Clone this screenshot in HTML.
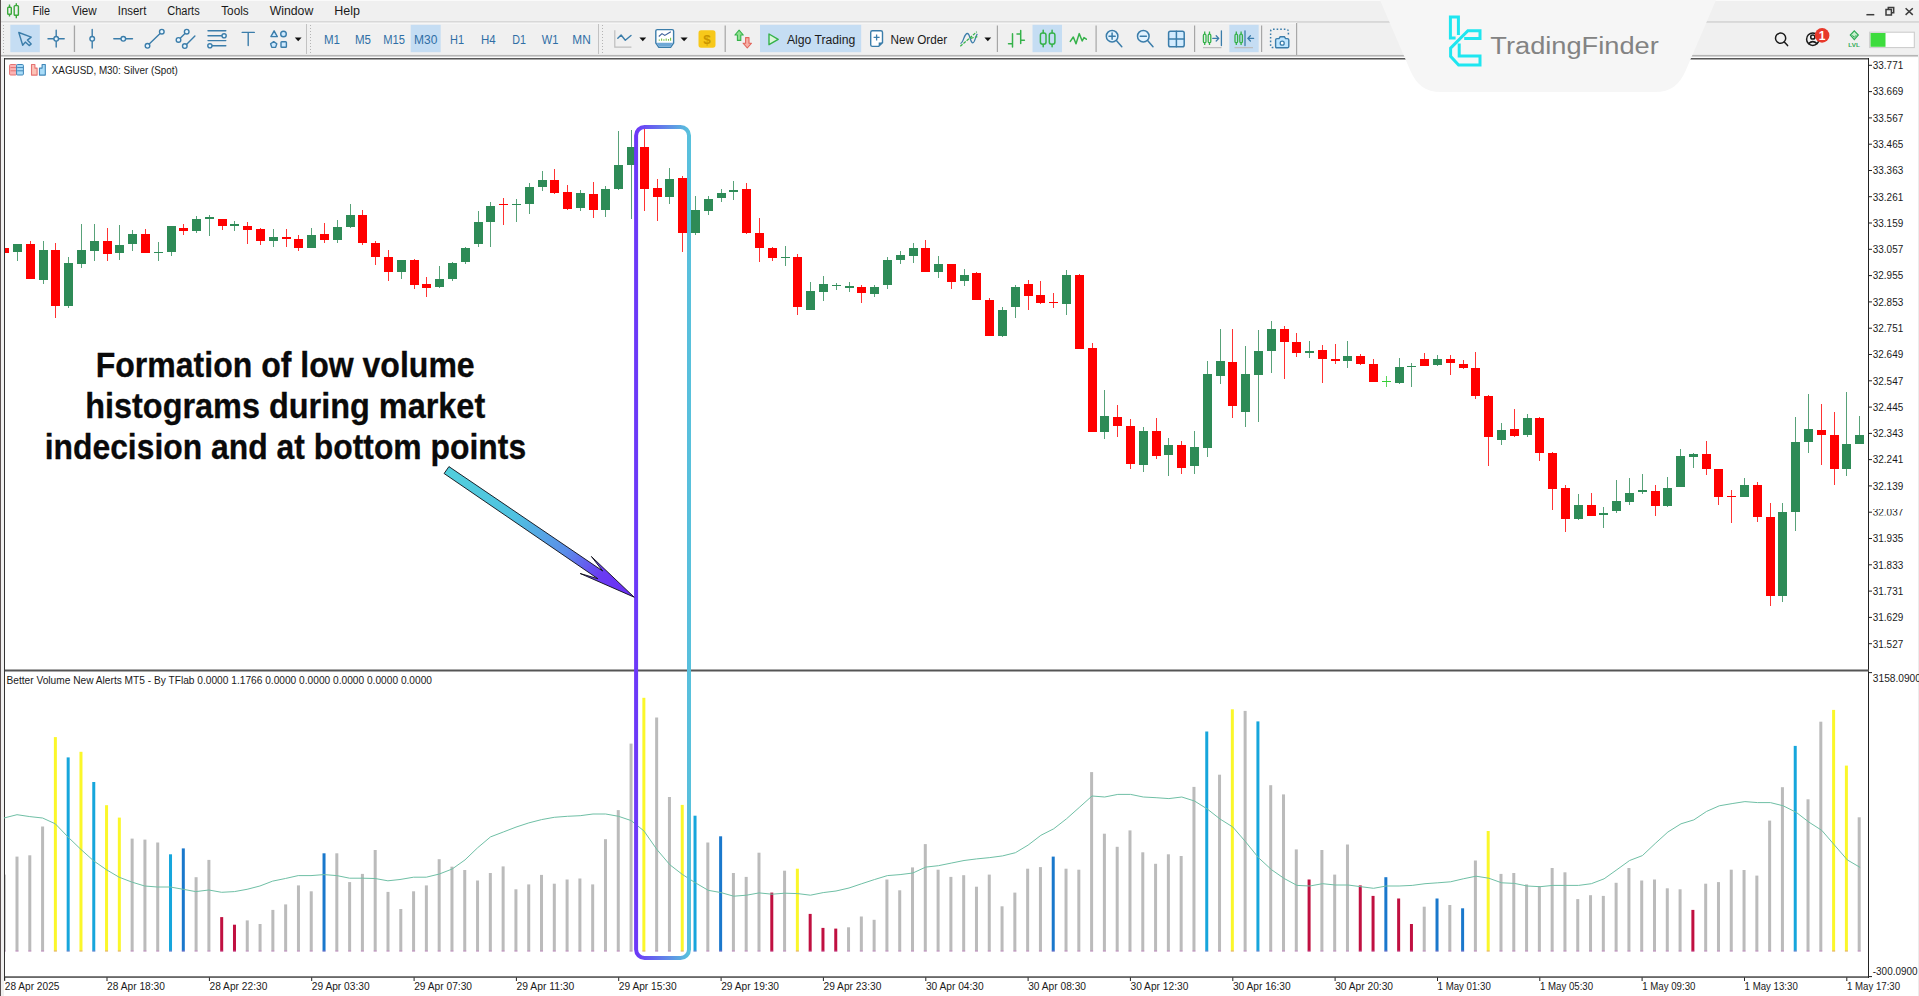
<!DOCTYPE html>
<html lang="en">
<head>
<meta charset="utf-8">
<title>XAGUSD, M30 - Better Volume New Alerts MT5</title>
<style>
html,body{margin:0;padding:0;background:#fff;}
body{width:1919px;height:996px;position:relative;overflow:hidden;font-family:"Liberation Sans",sans-serif;}
svg text.ax{font-family:"Liberation Sans",sans-serif;font-size:10.2px;fill:#1a1a1a;}
svg text.ttl{font-family:"Liberation Sans",sans-serif;font-size:10.2px;fill:#1a1a1a;}
svg text.ann{font-family:"Liberation Sans",sans-serif;font-weight:bold;font-size:35px;fill:#0a0a0a;stroke:#0a0a0a;stroke-width:0.3px;text-anchor:middle;}
svg text.logo{font-family:"Liberation Sans",sans-serif;font-size:24.7px;fill:#838383;}
svg .mn text{font-family:"Liberation Sans",sans-serif;font-size:12px;fill:#1a1a1a;}
svg .tf text{font-family:"Liberation Sans",sans-serif;font-size:12px;fill:#2f6ea5;}
svg .tb text{font-family:"Liberation Sans",sans-serif;font-size:12.5px;fill:#1a1a1a;}
#main{position:absolute;left:0;top:0;}
</style>
</head>
<body>

<svg id="main" width="1919" height="996" viewBox="0 0 1919 996">
<defs>
<linearGradient id="gbox" x1="636" y1="0" x2="689" y2="0" gradientUnits="userSpaceOnUse">
<stop offset="0" stop-color="#6c38f8"/><stop offset="1" stop-color="#58c1dc"/>
</linearGradient>
<linearGradient id="garr" x1="446" y1="470" x2="634" y2="597" gradientUnits="userSpaceOnUse">
<stop offset="0" stop-color="#52cfdc"/><stop offset="0.36" stop-color="#50c2e0"/><stop offset="0.64" stop-color="#5b8de9"/><stop offset="0.82" stop-color="#6a3cf2"/><stop offset="1" stop-color="#6a2cf5"/>
</linearGradient>
<clipPath id="clip037"><rect x="1870" y="509.000" width="49" height="6.500"/></clipPath>
<clipPath id="clipchart"><rect x="5" y="59" width="1863" height="918"/></clipPath>
</defs>

<!-- ===== window chrome: menu + toolbar ===== -->
<g id="chrome">
<rect x="0" y="0" width="1919" height="55" fill="#f0f0f0"/>
<rect x="0" y="0" width="1919" height="1" fill="#fafafa"/>
<rect x="0" y="21.300" width="1919" height="1.300" fill="#cdcdcd"/>
<rect x="0" y="22.600" width="1297" height="1" fill="#fbfbfb"/>
<rect x="0" y="54.500" width="1919" height="1" fill="#e6e6e6"/>
<rect x="0" y="55.200" width="1919" height="1.500" fill="#a6a6a6"/>
<rect x="0" y="56.700" width="1919" height="1.500" fill="#fcfcfc"/>

<!-- highlighted buttons -->
<g fill="#c5ddf3">
<rect x="10.3" y="24.8" width="29.500" height="27.400"/>
<rect x="410.7" y="24.8" width="30" height="27.4"/>
<rect x="760" y="24.8" width="101.2" height="27.4"/>
<rect x="1032.500" y="24.8" width="29.5" height="27.4"/>
<rect x="1229.3" y="24.8" width="29.4" height="27.4"/>
</g>

<!-- app icon -->
<g fill="none" stroke="#3aa83a" stroke-width="1.4">
<rect x="7.7" y="7.2" width="3.6" height="7" rx="0.8"/>
<path d="M9.5 4.5 V7.2 M9.5 14.2 V16.5"/>
<rect x="14.2" y="5.6" width="4.2" height="9.6" rx="0.8"/>
<path d="M16.3 3.2 V5.6 M16.3 15.2 V18.2"/>
</g>

<!-- menu -->
<g class="mn">
<text x="32.5" y="15.4" textLength="17.5" lengthAdjust="spacingAndGlyphs">File</text>
<text x="71.7" y="15.4" textLength="25" lengthAdjust="spacingAndGlyphs">View</text>
<text x="117.8" y="15.4" textLength="28.5" lengthAdjust="spacingAndGlyphs">Insert</text>
<text x="167.2" y="15.4" textLength="32.5" lengthAdjust="spacingAndGlyphs">Charts</text>
<text x="221.2" y="15.4" textLength="27.5" lengthAdjust="spacingAndGlyphs">Tools</text>
<text x="269.7" y="15.4" textLength="43.6" lengthAdjust="spacingAndGlyphs">Window</text>
<text x="334.3" y="15.4" textLength="25.7" lengthAdjust="spacingAndGlyphs">Help</text>
</g>

<!-- grips -->
<g stroke="#b4b4b4" stroke-width="1" stroke-dasharray="1 2">
<path d="M3.5 25 V53 M310.500 25 V53 M602.500 25 V53"/>
</g>
<!-- separators -->
<g fill="#a6a6a6">
<rect x="73.800" y="25.500" width="1.300" height="26.500"/>
<rect x="306" y="24" width="1" height="30" fill="#c2c2c2"/>
<rect x="598" y="24" width="1" height="30" fill="#c2c2c2"/>
<rect x="724.600" y="25.5" width="1.2" height="26.5"/>
<rect x="996.800" y="25.5" width="1.2" height="26.5"/>
<rect x="1095.500" y="25.5" width="1.2" height="26.5"/>
<rect x="1194" y="25.5" width="1.2" height="26.5"/>
<rect x="1261" y="25.5" width="1.2" height="26.5"/>
<rect x="1296" y="23" width="1.200" height="32" fill="#a8a8a8"/>
</g>

<!-- drawing tool icons -->
<g fill="none" stroke="#3b7daa" stroke-width="1.4" stroke-linecap="round" stroke-linejoin="round">
<!-- cursor -->
<path d="M18.800 32.500 L31.200 37.100 L27.400 40.100 L31.200 43.900 L29.200 45.600 L25.300 42.100 L22.700 45.200 Z"/>
<!-- crosshair -->
<path d="M48 38.800 H53.800 M58.600 38.800 H64.200 M56.200 30.200 V36.400 M56.200 41.200 V47"/>
<circle cx="56.200" cy="38.800" r="2.300" fill="#e8f6ff"/>
<!-- vertical line -->
<path d="M92.200 29.500 V36.400 M92.200 41.200 V48"/>
<circle cx="92.200" cy="38.800" r="2.300" fill="#e8f6ff"/>
<!-- horizontal line -->
<path d="M113.800 38.800 H121 M125.700 38.800 H132.500"/>
<circle cx="123.300" cy="38.800" r="2.300" fill="#e8f6ff"/>
<!-- trend line -->
<path d="M149.200 44.100 L160.100 33.400"/>
<circle cx="147.500" cy="45.800" r="2.300" fill="#e8f6ff"/>
<circle cx="161.800" cy="31.700" r="2.300" fill="#e8f6ff"/>
<!-- channel -->
<path d="M180.200 38.200 L185 33.400 M186.500 44.400 L194.900 36"/>
<circle cx="178.500" cy="39.900" r="2.300" fill="#e8f6ff"/>
<circle cx="186.700" cy="31.700" r="2.300" fill="#e8f6ff"/>
<circle cx="184.800" cy="46.100" r="2.300" fill="#e8f6ff"/>
<!-- fibo -->
<path d="M208 30.800 H225.800 M208 35.800 H221.800 M208 40.600 H225.800 M212.200 45.800 H225.800"/>
<circle cx="224.100" cy="35.800" r="2.100" fill="#e8f6ff"/>
<circle cx="209.900" cy="45.800" r="2.100" fill="#e8f6ff"/>
<!-- text T -->
<path d="M242.200 32.400 H254.300 M248.200 32.400 V45.600"/>
<!-- shapes -->
<path d="M274.100 30.800 L277.300 36.600 H270.900 Z" fill="#cfeaff"/>
<circle cx="283.500" cy="34" r="2.800" fill="#cfeaff"/>
<path d="M273.700 41.600 L276.800 43.800 L275.600 47.400 H271.800 L270.600 43.800 Z" fill="#cfeaff"/>
<rect x="281" y="41.800" width="5.400" height="5.400" rx="0.800" fill="#cfeaff"/>
</g>
<path d="M294.800 37.400 H301.600 L298.200 41.200 Z" fill="#111"/>

<!-- timeframes -->
<g class="tf">
<text x="324" y="44.300" textLength="16" lengthAdjust="spacingAndGlyphs">M1</text>
<text x="355" y="44.300" textLength="16" lengthAdjust="spacingAndGlyphs">M5</text>
<text x="383.300" y="44.300" textLength="21.700" lengthAdjust="spacingAndGlyphs">M15</text>
<text x="414" y="44.300" textLength="23.300" lengthAdjust="spacingAndGlyphs">M30</text>
<text x="450" y="44.300" textLength="14" lengthAdjust="spacingAndGlyphs">H1</text>
<text x="481" y="44.300" textLength="14.700" lengthAdjust="spacingAndGlyphs">H4</text>
<text x="512.300" y="44.300" textLength="13.700" lengthAdjust="spacingAndGlyphs">D1</text>
<text x="541.700" y="44.300" textLength="16.600" lengthAdjust="spacingAndGlyphs">W1</text>
<text x="572.300" y="44.300" textLength="18.400" lengthAdjust="spacingAndGlyphs">MN</text>
</g>

<!-- line chart w/ dropdown -->
<path d="M614.800 30.300 V47.200 H631.400" fill="none" stroke="#bdbdbd" stroke-width="1.2"/>
<path d="M617.800 38.300 L621.100 35 L625.300 40.200 L631 35.500" fill="none" stroke="#3b7daa" stroke-width="1.400" stroke-linejoin="round" stroke-linecap="round"/>
<path d="M639.400 37.400 H646.200 L642.800 41.200 Z" fill="#111"/>
<!-- indicators -->
<path d="M657.300 29.600 H672.100 Q673.600 29.600 673.600 31.100 V43 L670.600 47.400 H658.800 L655.800 43 V31.100 Q655.800 29.600 657.300 29.600 Z" fill="#fff" stroke="#3b7daa" stroke-width="1.4"/>
<path d="M656.500 42.800 H673 L670.300 46.800 H659.100 Z" fill="#6fa8d6"/>
<path d="M658.800 36.500 L662 33.600 L664.800 35.400 L670.800 31.800" fill="none" stroke="#3b5f9a" stroke-width="1.100"/>
<path d="M659.300 40.800 V39.600 M661.600 40.800 V38.600 M663.900 40.800 V39.300 M666.200 40.800 V38.400 M668.500 40.800 V39 M670.600 40.800 V37.800" stroke="#7ac143" stroke-width="1.100"/>
<path d="M680.500 37.400 H687.700 L684.100 41.200 Z" fill="#111"/>
<!-- dollar -->
<rect x="698.500" y="30.300" width="17" height="17.400" rx="2.600" fill="#f7c81a"/>
<text x="707" y="44.200" style="font:bold 13.500px 'Liberation Sans',sans-serif;fill:#c99500;text-anchor:middle">$</text>
<!-- up/down arrows -->
<path d="M739.100 30.200 L743.300 35 H740.800 V40.400 H737.400 V35 H734.900 Z" fill="#8fe08f" stroke="#35b24a" stroke-width="1.100" stroke-linejoin="round"/>
<path d="M747.300 48 L743.100 43.200 H745.600 V37.600 H749 V43.200 H751.500 Z" fill="#f6b0a8" stroke="#e3665c" stroke-width="1.100" stroke-linejoin="round"/>
<!-- algo trading -->
<path d="M769 34 L778.200 39.300 L769 44.700 Z" fill="#d9f5d9" stroke="#35b24a" stroke-width="1.400" stroke-linejoin="round"/>
<g class="tb">
<text x="786.900" y="43.600" textLength="68.400" lengthAdjust="spacingAndGlyphs">Algo Trading</text>
<text x="890.600" y="43.600" textLength="56.600" lengthAdjust="spacingAndGlyphs">New Order</text>
</g>
<!-- new order doc -->
<path d="M872.400 30.700 H880.800 Q882.500 30.700 882.500 32.400 V42.600 L878.700 46.400 H872.400 Q870.700 46.400 870.700 44.700 V32.400 Q870.700 30.700 872.400 30.700 Z" fill="#fff" stroke="#3b7daa" stroke-width="1.400"/>
<path d="M882.500 42.600 L878.700 46.400 V42.600 Z" fill="#3b7daa"/>
<path d="M873.600 37.400 H879.600 M876.600 34.400 V40.400" stroke="#3b7daa" stroke-width="1.300"/>
<!-- chart tools -->
<path d="M960.500 43.500 C963.500 43 964 33.500 967.300 33.500 C970.300 33.500 970 42.800 972.800 42.800 C975 42.800 975.500 36 977.300 33.800" fill="none" stroke="#3b7daa" stroke-width="1.300"/>
<path d="M960.300 46.200 L976.800 31.800 M970.800 38.300 L977.300 36.600" fill="none" stroke="#35b24a" stroke-width="1.200" stroke-dasharray="3 1.200"/>
<path d="M984.400 37.400 H991.200 L987.800 41.200 Z" fill="#111"/>
<!-- bars / candles / line -->
<g fill="none" stroke="#35b24a" stroke-width="1.500" stroke-linecap="round">
<path d="M1012.500 33.800 V47 M1008.500 43.800 H1012.500 M1020.700 30.600 V43.400 M1017 34 H1020.700 M1020.700 40.200 H1024.400"/>
<rect x="1040.400" y="33" width="5.600" height="11.200" rx="2.200"/>
<path d="M1043.200 30.200 V33 M1043.200 44.200 V46.800"/>
<rect x="1049.300" y="33" width="5.600" height="11.200" rx="2.200"/>
<path d="M1052.100 30.200 V33 M1052.100 44.200 V46.800"/>
<path d="M1070.300 41.400 L1073.300 37 L1076 43.800 L1079.200 33.600 L1082.200 41 L1084 37.600 L1086.300 39.200" stroke-linejoin="round"/>
</g>
<!-- zoom in/out -->
<g fill="none" stroke="#3b7daa" stroke-width="1.500" stroke-linecap="round">
<circle cx="1112.100" cy="36.200" r="5.800" fill="#e2f3ff"/>
<path d="M1116.400 40.600 L1121.800 46.700 M1109 36.200 H1115.200 M1112.100 33.100 V39.300"/>
<circle cx="1143.300" cy="36.200" r="5.800" fill="#e2f3ff"/>
<path d="M1147.600 40.600 L1153 46.700 M1140.200 36.200 H1146.400"/>
<!-- grid -->
<rect x="1168.600" y="31.200" width="15.600" height="15.600" rx="1.800" fill="#d3ecff"/>
<path d="M1176.400 31.200 V46.800 M1168.600 39 H1184.200"/>
</g>
<!-- scroll-to-end -->
<g fill="none" stroke="#35b24a" stroke-width="1.300">
<rect x="1203.400" y="34.200" width="2.600" height="8.400" rx="1.200"/><path d="M1204.700 31.600 V34.200 M1204.700 42.600 V45"/>
<rect x="1208.200" y="34.200" width="2.600" height="8.400" rx="1.200"/><path d="M1209.500 31.600 V34.200 M1209.500 42.600 V45"/>
<rect x="1235" y="34.200" width="2.600" height="8.400" rx="1.200"/><path d="M1236.300 31.600 V34.200 M1236.300 42.600 V45"/>
<rect x="1239.800" y="34.200" width="2.600" height="8.400" rx="1.200"/><path d="M1241.100 31.600 V34.200 M1241.100 42.600 V45"/>
</g>
<g fill="none" stroke="#3b7daa" stroke-width="1.300" stroke-linecap="round" stroke-linejoin="round">
<path d="M1212.800 38.400 H1218.600 M1216.200 35.800 L1218.800 38.400 L1216.200 41 M1221.400 30.800 V45.600"/>
<path d="M1245 30.800 V45.600 M1247.800 38.400 H1253.600 M1250.400 35.800 L1247.800 38.400 L1250.400 41"/>
</g>
<path d="M1203 47.600 H1221.500 M1234.500 47.600 H1253" stroke="#bdbdbd" stroke-width="1.200"/>
<!-- camera -->
<path d="M1277 47.600 H1273 Q1270.600 47.600 1270.600 45.200 V31.600 Q1270.600 29.200 1273 29.200 H1286 Q1288.400 29.200 1288.400 31.600 V35.600" fill="none" stroke="#3b7daa" stroke-width="1.500" stroke-dasharray="1.600 2"/>
<path d="M1277 38.600 H1279 L1280.200 36.800 H1284.400 L1285.600 38.600 H1287.400 Q1288.800 38.600 1288.800 40 V46.400 Q1288.800 47.800 1287.400 47.800 H1277 Q1275.600 47.800 1275.600 46.400 V40 Q1275.600 38.600 1277 38.600 Z" fill="#bfe6ff" stroke="#3b7daa" stroke-width="1.400"/>
<circle cx="1282.200" cy="43.200" r="2" fill="#fff" stroke="#3b7daa" stroke-width="1.300"/>

<!-- right side -->
<g fill="none" stroke="#1b1b1b" stroke-width="1.500" stroke-linecap="round">
<circle cx="1780.600" cy="38.200" r="5.100"/>
<path d="M1784.300 42 L1787.600 45.600"/>
<circle cx="1812.800" cy="39.200" r="6.200"/>
<circle cx="1812.800" cy="37" r="2.100"/>
<path d="M1808.600 43.600 Q1812.800 39.600 1817 43.600"/>
</g>
<circle cx="1822.100" cy="35.400" r="7.300" fill="#e8392b"/>
<text x="1822.100" y="40" style="font:bold 12px 'Liberation Sans',sans-serif;fill:#fff;text-anchor:middle">1</text>
<path d="M1854.300 30.800 L1858.300 35 L1854.300 39.600 L1850.300 35 Z" fill="#c9f0d0" stroke="#2faa55" stroke-width="1.200"/>
<path d="M1852.400 35.200 L1854.300 37.300 L1856.200 35.200" fill="none" stroke="#2faa55" stroke-width="1"/>
<text x="1854.100" y="46.800" style="font:bold 6px 'Liberation Sans',sans-serif;fill:#2faa55;text-anchor:middle" textLength="11.500" lengthAdjust="spacingAndGlyphs">LVL</text>
<rect x="1869.700" y="32.200" width="44.600" height="15.400" fill="#fff" stroke="#c9c9c9" stroke-width="1"/>
<rect x="1870.500" y="33" width="15" height="13.800" fill="#3ddc3d"/>
<!-- window controls -->
<g fill="none" stroke="#3c3c3c" stroke-width="1.500">
<path d="M1866.400 14.700 H1874.300"/>
<path d="M1886 9.600 H1891.400 V15 H1886 Z M1888.300 9.600 V7.400 H1893.700 V12.800 H1891.400"/>
<path d="M1905.600 8.300 L1912.800 14.900 M1912.800 8.300 L1905.600 14.900"/>
</g>
</g>

<!-- window / frame borders -->
<rect x="0" y="0" width="1" height="996" fill="#5a5050"/>
<rect x="4" y="58.150" width="1865" height="1.300" fill="#3a3a3a"/>
<rect x="4" y="58" width="1" height="922" fill="#333"/>
<rect x="1" y="58" width="3" height="938" fill="#f0f0f0"/>
<rect x="1918" y="55" width="1" height="941" fill="#ececec"/>
<!-- right axis -->
<rect x="1868" y="58" width="1" height="920" fill="#222"/>
<!-- separator between main & indicator -->
<rect x="5" y="669.5" width="1864" height="2" fill="#555"/>
<!-- bottom axis -->
<rect x="5" y="976.400" width="1864" height="1.300" fill="#2a2a2a"/>

<!-- chart title -->
<g>
<rect x="9.600" y="64.500" width="7" height="10.500" rx="1" fill="#fbb4b4" stroke="#e57373" stroke-width="1"/>
<rect x="16.600" y="64.500" width="6.800" height="10.500" rx="1" fill="#a9dcf8" stroke="#3f86b8" stroke-width="1"/>
<path d="M10.500 67.600 H16 M10.500 70.800 H16" stroke="#e57373" stroke-width="1"/>
<path d="M17.200 67.600 H23 M17.200 70.800 H23" stroke="#3f86b8" stroke-width="1"/>
<path d="M31.500 64.500 h3.400 v3.600 h2.200 v7 h-5.600 z" fill="#fcc4b8" stroke="#e57373" stroke-width="1.100" stroke-linejoin="round"/>
<path d="M39.500 68.100 h2.600 v-3.600 h3.200 v10.600 h-5.800 z" fill="#a9dcf8" stroke="#3f86b8" stroke-width="1.100" stroke-linejoin="round"/>
<text x="51.800" y="73.800" class="ttl" textLength="126" lengthAdjust="spacingAndGlyphs">XAGUSD, M30:  Silver (Spot)</text>
</g>

<!-- indicator title and scale -->
<text x="6.5" y="684" class="ttl" textLength="425.5" lengthAdjust="spacingAndGlyphs">Better Volume New Alerts MT5 - By TFlab 0.0000 1.1766 0.0000 0.0000 0.0000 0.0000 0.0000</text>
<rect x="1869" y="672.100" width="3" height="1" fill="#222"/>
<text x="1872.800" y="681.600" class="ax">3158.0900</text>
<rect x="1869" y="976.100" width="3" height="1" fill="#222"/>
<text x="1872.800" y="975.400" class="ax" textLength="44.700" lengthAdjust="spacingAndGlyphs">-300.0900</text>

<rect x="1869" y="64.8" width="3" height="1" fill="#222"/>
<text x="1872.8" y="69.1" class="ax" textLength="30.4" lengthAdjust="spacingAndGlyphs">33.771</text>
<rect x="1869" y="91.1" width="3" height="1" fill="#222"/>
<text x="1872.8" y="95.4" class="ax" textLength="30.4" lengthAdjust="spacingAndGlyphs">33.669</text>
<rect x="1869" y="117.4" width="3" height="1" fill="#222"/>
<text x="1872.8" y="121.7" class="ax" textLength="30.4" lengthAdjust="spacingAndGlyphs">33.567</text>
<rect x="1869" y="143.7" width="3" height="1" fill="#222"/>
<text x="1872.8" y="148.0" class="ax" textLength="30.4" lengthAdjust="spacingAndGlyphs">33.465</text>
<rect x="1869" y="170.0" width="3" height="1" fill="#222"/>
<text x="1872.8" y="174.3" class="ax" textLength="30.4" lengthAdjust="spacingAndGlyphs">33.363</text>
<rect x="1869" y="196.2" width="3" height="1" fill="#222"/>
<text x="1872.8" y="200.6" class="ax" textLength="30.4" lengthAdjust="spacingAndGlyphs">33.261</text>
<rect x="1869" y="222.5" width="3" height="1" fill="#222"/>
<text x="1872.8" y="226.8" class="ax" textLength="30.4" lengthAdjust="spacingAndGlyphs">33.159</text>
<rect x="1869" y="248.8" width="3" height="1" fill="#222"/>
<text x="1872.8" y="253.1" class="ax" textLength="30.4" lengthAdjust="spacingAndGlyphs">33.057</text>
<rect x="1869" y="275.1" width="3" height="1" fill="#222"/>
<text x="1872.8" y="279.4" class="ax" textLength="30.4" lengthAdjust="spacingAndGlyphs">32.955</text>
<rect x="1869" y="301.4" width="3" height="1" fill="#222"/>
<text x="1872.8" y="305.7" class="ax" textLength="30.4" lengthAdjust="spacingAndGlyphs">32.853</text>
<rect x="1869" y="327.7" width="3" height="1" fill="#222"/>
<text x="1872.8" y="332.0" class="ax" textLength="30.4" lengthAdjust="spacingAndGlyphs">32.751</text>
<rect x="1869" y="354.0" width="3" height="1" fill="#222"/>
<text x="1872.8" y="358.3" class="ax" textLength="30.4" lengthAdjust="spacingAndGlyphs">32.649</text>
<rect x="1869" y="380.3" width="3" height="1" fill="#222"/>
<text x="1872.8" y="384.6" class="ax" textLength="30.4" lengthAdjust="spacingAndGlyphs">32.547</text>
<rect x="1869" y="406.6" width="3" height="1" fill="#222"/>
<text x="1872.8" y="410.9" class="ax" textLength="30.4" lengthAdjust="spacingAndGlyphs">32.445</text>
<rect x="1869" y="432.9" width="3" height="1" fill="#222"/>
<text x="1872.8" y="437.2" class="ax" textLength="30.4" lengthAdjust="spacingAndGlyphs">32.343</text>
<rect x="1869" y="459.1" width="3" height="1" fill="#222"/>
<text x="1872.8" y="463.4" class="ax" textLength="30.4" lengthAdjust="spacingAndGlyphs">32.241</text>
<rect x="1869" y="485.4" width="3" height="1" fill="#222"/>
<text x="1872.8" y="489.7" class="ax" textLength="30.4" lengthAdjust="spacingAndGlyphs">32.139</text>
<rect x="1869" y="511.7" width="3" height="1" fill="#222"/>
<text x="1872.8" y="516.0" class="ax" textLength="30.4" lengthAdjust="spacingAndGlyphs" clip-path="url(#clip037)">32.037</text>
<rect x="1869" y="538.0" width="3" height="1" fill="#222"/>
<text x="1872.8" y="542.3" class="ax" textLength="30.4" lengthAdjust="spacingAndGlyphs">31.935</text>
<rect x="1869" y="564.3" width="3" height="1" fill="#222"/>
<text x="1872.8" y="568.6" class="ax" textLength="30.4" lengthAdjust="spacingAndGlyphs">31.833</text>
<rect x="1869" y="590.6" width="3" height="1" fill="#222"/>
<text x="1872.8" y="594.9" class="ax" textLength="30.4" lengthAdjust="spacingAndGlyphs">31.731</text>
<rect x="1869" y="616.9" width="3" height="1" fill="#222"/>
<text x="1872.8" y="621.2" class="ax" textLength="30.4" lengthAdjust="spacingAndGlyphs">31.629</text>
<rect x="1869" y="643.2" width="3" height="1" fill="#222"/>
<text x="1872.8" y="647.5" class="ax" textLength="30.4" lengthAdjust="spacingAndGlyphs">31.527</text>
<rect x="4.2" y="977.5" width="1" height="3.5" fill="#222"/>
<text x="4.8" y="990.3" class="ax" textLength="54.6" lengthAdjust="spacingAndGlyphs">28 Apr 2025</text>
<rect x="106.5" y="977.5" width="1" height="3.5" fill="#222"/>
<text x="107.1" y="990.3" class="ax" textLength="57.8" lengthAdjust="spacingAndGlyphs">28 Apr 18:30</text>
<rect x="208.9" y="977.5" width="1" height="3.5" fill="#222"/>
<text x="209.5" y="990.3" class="ax" textLength="57.8" lengthAdjust="spacingAndGlyphs">28 Apr 22:30</text>
<rect x="311.2" y="977.5" width="1" height="3.5" fill="#222"/>
<text x="311.8" y="990.3" class="ax" textLength="57.8" lengthAdjust="spacingAndGlyphs">29 Apr 03:30</text>
<rect x="413.6" y="977.5" width="1" height="3.5" fill="#222"/>
<text x="414.2" y="990.3" class="ax" textLength="57.8" lengthAdjust="spacingAndGlyphs">29 Apr 07:30</text>
<rect x="515.9" y="977.5" width="1" height="3.5" fill="#222"/>
<text x="516.5" y="990.3" class="ax" textLength="57.8" lengthAdjust="spacingAndGlyphs">29 Apr 11:30</text>
<rect x="618.2" y="977.5" width="1" height="3.5" fill="#222"/>
<text x="618.8" y="990.3" class="ax" textLength="57.8" lengthAdjust="spacingAndGlyphs">29 Apr 15:30</text>
<rect x="720.6" y="977.5" width="1" height="3.5" fill="#222"/>
<text x="721.2" y="990.3" class="ax" textLength="57.8" lengthAdjust="spacingAndGlyphs">29 Apr 19:30</text>
<rect x="822.9" y="977.5" width="1" height="3.5" fill="#222"/>
<text x="823.5" y="990.3" class="ax" textLength="57.8" lengthAdjust="spacingAndGlyphs">29 Apr 23:30</text>
<rect x="925.3" y="977.5" width="1" height="3.5" fill="#222"/>
<text x="925.9" y="990.3" class="ax" textLength="57.8" lengthAdjust="spacingAndGlyphs">30 Apr 04:30</text>
<rect x="1027.6" y="977.5" width="1" height="3.5" fill="#222"/>
<text x="1028.2" y="990.3" class="ax" textLength="57.8" lengthAdjust="spacingAndGlyphs">30 Apr 08:30</text>
<rect x="1129.9" y="977.5" width="1" height="3.5" fill="#222"/>
<text x="1130.5" y="990.3" class="ax" textLength="57.8" lengthAdjust="spacingAndGlyphs">30 Apr 12:30</text>
<rect x="1232.3" y="977.5" width="1" height="3.5" fill="#222"/>
<text x="1232.9" y="990.3" class="ax" textLength="57.8" lengthAdjust="spacingAndGlyphs">30 Apr 16:30</text>
<rect x="1334.6" y="977.5" width="1" height="3.5" fill="#222"/>
<text x="1335.2" y="990.3" class="ax" textLength="57.8" lengthAdjust="spacingAndGlyphs">30 Apr 20:30</text>
<rect x="1437.0" y="977.5" width="1" height="3.5" fill="#222"/>
<text x="1437.6" y="990.3" class="ax" textLength="53.2" lengthAdjust="spacingAndGlyphs">1 May 01:30</text>
<rect x="1539.3" y="977.5" width="1" height="3.5" fill="#222"/>
<text x="1539.9" y="990.3" class="ax" textLength="53.2" lengthAdjust="spacingAndGlyphs">1 May 05:30</text>
<rect x="1641.6" y="977.5" width="1" height="3.5" fill="#222"/>
<text x="1642.2" y="990.3" class="ax" textLength="53.2" lengthAdjust="spacingAndGlyphs">1 May 09:30</text>
<rect x="1744.0" y="977.5" width="1" height="3.5" fill="#222"/>
<text x="1744.6" y="990.3" class="ax" textLength="53.2" lengthAdjust="spacingAndGlyphs">1 May 13:30</text>
<rect x="1846.3" y="977.5" width="1" height="3.5" fill="#222"/>
<text x="1846.9" y="990.3" class="ax" textLength="53.2" lengthAdjust="spacingAndGlyphs">1 May 17:30</text>

<!-- volumes -->
<g clip-path="url(#clipchart)">
<rect x="2.71" y="874.6" width="3" height="76.9" fill="#bbbbbb"/>
<rect x="2.71" y="950.5" width="3" height="1" fill="#c864c8" opacity="0.55"/>
<rect x="15.50" y="856.6" width="3" height="94.9" fill="#bbbbbb"/>
<rect x="15.50" y="950.5" width="3" height="1" fill="#c864c8" opacity="0.55"/>
<rect x="28.29" y="855.3" width="3" height="96.2" fill="#bbbbbb"/>
<rect x="28.29" y="950.5" width="3" height="1" fill="#c864c8" opacity="0.55"/>
<rect x="41.09" y="826.5" width="3" height="125.0" fill="#bbbbbb"/>
<rect x="41.09" y="950.5" width="3" height="1" fill="#c864c8" opacity="0.55"/>
<rect x="53.88" y="737.1" width="3" height="214.4" fill="#fbf72a"/>
<rect x="53.88" y="950.5" width="3" height="1" fill="#c864c8" opacity="0.55"/>
<rect x="66.67" y="757.4" width="3" height="194.1" fill="#16a6dc"/>
<rect x="66.67" y="950.5" width="3" height="1" fill="#c864c8" opacity="0.55"/>
<rect x="79.47" y="751.8" width="3" height="199.7" fill="#fbf72a"/>
<rect x="79.47" y="950.5" width="3" height="1" fill="#c864c8" opacity="0.55"/>
<rect x="92.26" y="782.0" width="3" height="169.5" fill="#16a6dc"/>
<rect x="92.26" y="950.5" width="3" height="1" fill="#c864c8" opacity="0.55"/>
<rect x="105.05" y="805.2" width="3" height="146.3" fill="#fbf72a"/>
<rect x="105.05" y="950.5" width="3" height="1" fill="#c864c8" opacity="0.55"/>
<rect x="117.84" y="817.6" width="3" height="133.9" fill="#fbf72a"/>
<rect x="117.84" y="950.5" width="3" height="1" fill="#c864c8" opacity="0.55"/>
<rect x="130.64" y="838.6" width="3" height="112.9" fill="#bbbbbb"/>
<rect x="130.64" y="950.5" width="3" height="1" fill="#c864c8" opacity="0.55"/>
<rect x="143.43" y="839.6" width="3" height="111.9" fill="#bbbbbb"/>
<rect x="143.43" y="950.5" width="3" height="1" fill="#c864c8" opacity="0.55"/>
<rect x="156.22" y="842.5" width="3" height="109.0" fill="#bbbbbb"/>
<rect x="156.22" y="950.5" width="3" height="1" fill="#c864c8" opacity="0.55"/>
<rect x="169.02" y="854.3" width="3" height="97.2" fill="#16a6dc"/>
<rect x="169.02" y="950.5" width="3" height="1" fill="#c864c8" opacity="0.55"/>
<rect x="181.81" y="848.4" width="3" height="103.1" fill="#1a78cc"/>
<rect x="181.81" y="950.5" width="3" height="1" fill="#c864c8" opacity="0.55"/>
<rect x="194.60" y="877.2" width="3" height="74.3" fill="#bbbbbb"/>
<rect x="194.60" y="950.5" width="3" height="1" fill="#c864c8" opacity="0.55"/>
<rect x="207.39" y="859.9" width="3" height="91.6" fill="#bbbbbb"/>
<rect x="207.39" y="950.5" width="3" height="1" fill="#c864c8" opacity="0.55"/>
<rect x="220.19" y="917.1" width="3" height="34.4" fill="#c01040"/>
<rect x="220.19" y="950.5" width="3" height="1" fill="#c864c8" opacity="0.55"/>
<rect x="232.98" y="924.7" width="3" height="26.8" fill="#c01040"/>
<rect x="232.98" y="950.5" width="3" height="1" fill="#c864c8" opacity="0.55"/>
<rect x="245.77" y="920.4" width="3" height="31.1" fill="#bbbbbb"/>
<rect x="245.77" y="950.5" width="3" height="1" fill="#c864c8" opacity="0.55"/>
<rect x="258.57" y="924.0" width="3" height="27.5" fill="#bbbbbb"/>
<rect x="258.57" y="950.5" width="3" height="1" fill="#c864c8" opacity="0.55"/>
<rect x="271.36" y="909.9" width="3" height="41.6" fill="#bbbbbb"/>
<rect x="271.36" y="950.5" width="3" height="1" fill="#c864c8" opacity="0.55"/>
<rect x="284.15" y="904.4" width="3" height="47.1" fill="#bbbbbb"/>
<rect x="284.15" y="950.5" width="3" height="1" fill="#c864c8" opacity="0.55"/>
<rect x="296.95" y="885.4" width="3" height="66.1" fill="#bbbbbb"/>
<rect x="296.95" y="950.5" width="3" height="1" fill="#c864c8" opacity="0.55"/>
<rect x="309.74" y="891.3" width="3" height="60.2" fill="#bbbbbb"/>
<rect x="309.74" y="950.5" width="3" height="1" fill="#c864c8" opacity="0.55"/>
<rect x="322.53" y="853.3" width="3" height="98.2" fill="#1a78cc"/>
<rect x="322.53" y="950.5" width="3" height="1" fill="#c864c8" opacity="0.55"/>
<rect x="335.32" y="853.3" width="3" height="98.2" fill="#bbbbbb"/>
<rect x="335.32" y="950.5" width="3" height="1" fill="#c864c8" opacity="0.55"/>
<rect x="348.12" y="882.1" width="3" height="69.4" fill="#bbbbbb"/>
<rect x="348.12" y="950.5" width="3" height="1" fill="#c864c8" opacity="0.55"/>
<rect x="360.91" y="873.9" width="3" height="77.6" fill="#bbbbbb"/>
<rect x="360.91" y="950.5" width="3" height="1" fill="#c864c8" opacity="0.55"/>
<rect x="373.70" y="850.0" width="3" height="101.5" fill="#bbbbbb"/>
<rect x="373.70" y="950.5" width="3" height="1" fill="#c864c8" opacity="0.55"/>
<rect x="386.50" y="891.9" width="3" height="59.6" fill="#bbbbbb"/>
<rect x="386.50" y="950.5" width="3" height="1" fill="#c864c8" opacity="0.55"/>
<rect x="399.29" y="909.0" width="3" height="42.5" fill="#bbbbbb"/>
<rect x="399.29" y="950.5" width="3" height="1" fill="#c864c8" opacity="0.55"/>
<rect x="412.08" y="891.3" width="3" height="60.2" fill="#bbbbbb"/>
<rect x="412.08" y="950.5" width="3" height="1" fill="#c864c8" opacity="0.55"/>
<rect x="424.88" y="885.4" width="3" height="66.1" fill="#bbbbbb"/>
<rect x="424.88" y="950.5" width="3" height="1" fill="#c864c8" opacity="0.55"/>
<rect x="437.67" y="859.2" width="3" height="92.3" fill="#bbbbbb"/>
<rect x="437.67" y="950.5" width="3" height="1" fill="#c864c8" opacity="0.55"/>
<rect x="450.46" y="866.7" width="3" height="84.8" fill="#bbbbbb"/>
<rect x="450.46" y="950.5" width="3" height="1" fill="#c864c8" opacity="0.55"/>
<rect x="463.25" y="870.0" width="3" height="81.5" fill="#bbbbbb"/>
<rect x="463.25" y="950.5" width="3" height="1" fill="#c864c8" opacity="0.55"/>
<rect x="476.05" y="880.5" width="3" height="71.0" fill="#bbbbbb"/>
<rect x="476.05" y="950.5" width="3" height="1" fill="#c864c8" opacity="0.55"/>
<rect x="488.84" y="873.0" width="3" height="78.5" fill="#bbbbbb"/>
<rect x="488.84" y="950.5" width="3" height="1" fill="#c864c8" opacity="0.55"/>
<rect x="501.63" y="866.4" width="3" height="85.1" fill="#bbbbbb"/>
<rect x="501.63" y="950.5" width="3" height="1" fill="#c864c8" opacity="0.55"/>
<rect x="514.43" y="889.3" width="3" height="62.2" fill="#bbbbbb"/>
<rect x="514.43" y="950.5" width="3" height="1" fill="#c864c8" opacity="0.55"/>
<rect x="527.22" y="884.4" width="3" height="67.1" fill="#bbbbbb"/>
<rect x="527.22" y="950.5" width="3" height="1" fill="#c864c8" opacity="0.55"/>
<rect x="540.01" y="874.9" width="3" height="76.6" fill="#bbbbbb"/>
<rect x="540.01" y="950.5" width="3" height="1" fill="#c864c8" opacity="0.55"/>
<rect x="552.81" y="883.7" width="3" height="67.8" fill="#bbbbbb"/>
<rect x="552.81" y="950.5" width="3" height="1" fill="#c864c8" opacity="0.55"/>
<rect x="565.60" y="879.5" width="3" height="72.0" fill="#bbbbbb"/>
<rect x="565.60" y="950.5" width="3" height="1" fill="#c864c8" opacity="0.55"/>
<rect x="578.39" y="878.5" width="3" height="73.0" fill="#bbbbbb"/>
<rect x="578.39" y="950.5" width="3" height="1" fill="#c864c8" opacity="0.55"/>
<rect x="591.18" y="884.4" width="3" height="67.1" fill="#bbbbbb"/>
<rect x="591.18" y="950.5" width="3" height="1" fill="#c864c8" opacity="0.55"/>
<rect x="603.98" y="839.2" width="3" height="112.3" fill="#bbbbbb"/>
<rect x="603.98" y="950.5" width="3" height="1" fill="#c864c8" opacity="0.55"/>
<rect x="616.77" y="810.1" width="3" height="141.4" fill="#bbbbbb"/>
<rect x="616.77" y="950.5" width="3" height="1" fill="#c864c8" opacity="0.55"/>
<rect x="629.56" y="743.6" width="3" height="207.9" fill="#bbbbbb"/>
<rect x="629.56" y="950.5" width="3" height="1" fill="#c864c8" opacity="0.55"/>
<rect x="642.36" y="697.8" width="3" height="253.7" fill="#fbf72a"/>
<rect x="642.36" y="950.5" width="3" height="1" fill="#c864c8" opacity="0.55"/>
<rect x="655.15" y="717.5" width="3" height="234.0" fill="#bbbbbb"/>
<rect x="655.15" y="950.5" width="3" height="1" fill="#c864c8" opacity="0.55"/>
<rect x="667.94" y="797.0" width="3" height="154.5" fill="#bbbbbb"/>
<rect x="667.94" y="950.5" width="3" height="1" fill="#c864c8" opacity="0.55"/>
<rect x="680.74" y="804.9" width="3" height="146.6" fill="#fbf72a"/>
<rect x="680.74" y="950.5" width="3" height="1" fill="#c864c8" opacity="0.55"/>
<rect x="693.53" y="815.7" width="3" height="135.8" fill="#16a6dc"/>
<rect x="693.53" y="950.5" width="3" height="1" fill="#c864c8" opacity="0.55"/>
<rect x="706.32" y="842.5" width="3" height="109.0" fill="#bbbbbb"/>
<rect x="706.32" y="950.5" width="3" height="1" fill="#c864c8" opacity="0.55"/>
<rect x="719.12" y="836.3" width="3" height="115.2" fill="#1a78cc"/>
<rect x="719.12" y="950.5" width="3" height="1" fill="#c864c8" opacity="0.55"/>
<rect x="731.91" y="873.0" width="3" height="78.5" fill="#bbbbbb"/>
<rect x="731.91" y="950.5" width="3" height="1" fill="#c864c8" opacity="0.55"/>
<rect x="744.70" y="876.9" width="3" height="74.6" fill="#bbbbbb"/>
<rect x="744.70" y="950.5" width="3" height="1" fill="#c864c8" opacity="0.55"/>
<rect x="757.49" y="852.7" width="3" height="98.8" fill="#bbbbbb"/>
<rect x="757.49" y="950.5" width="3" height="1" fill="#c864c8" opacity="0.55"/>
<rect x="770.29" y="892.6" width="3" height="58.9" fill="#c01040"/>
<rect x="770.29" y="950.5" width="3" height="1" fill="#c864c8" opacity="0.55"/>
<rect x="783.08" y="870.7" width="3" height="80.8" fill="#bbbbbb"/>
<rect x="783.08" y="950.5" width="3" height="1" fill="#c864c8" opacity="0.55"/>
<rect x="795.87" y="868.7" width="3" height="82.8" fill="#fbf72a"/>
<rect x="795.87" y="950.5" width="3" height="1" fill="#c864c8" opacity="0.55"/>
<rect x="808.67" y="913.9" width="3" height="37.6" fill="#c01040"/>
<rect x="808.67" y="950.5" width="3" height="1" fill="#c864c8" opacity="0.55"/>
<rect x="821.46" y="927.9" width="3" height="23.6" fill="#c01040"/>
<rect x="821.46" y="950.5" width="3" height="1" fill="#c864c8" opacity="0.55"/>
<rect x="834.25" y="928.6" width="3" height="22.9" fill="#c01040"/>
<rect x="834.25" y="950.5" width="3" height="1" fill="#c864c8" opacity="0.55"/>
<rect x="847.04" y="927.3" width="3" height="24.2" fill="#bbbbbb"/>
<rect x="847.04" y="950.5" width="3" height="1" fill="#c864c8" opacity="0.55"/>
<rect x="859.84" y="916.5" width="3" height="35.0" fill="#bbbbbb"/>
<rect x="859.84" y="950.5" width="3" height="1" fill="#c864c8" opacity="0.55"/>
<rect x="872.63" y="919.8" width="3" height="31.7" fill="#bbbbbb"/>
<rect x="872.63" y="950.5" width="3" height="1" fill="#c864c8" opacity="0.55"/>
<rect x="885.42" y="879.5" width="3" height="72.0" fill="#bbbbbb"/>
<rect x="885.42" y="950.5" width="3" height="1" fill="#c864c8" opacity="0.55"/>
<rect x="898.22" y="890.3" width="3" height="61.2" fill="#bbbbbb"/>
<rect x="898.22" y="950.5" width="3" height="1" fill="#c864c8" opacity="0.55"/>
<rect x="911.01" y="867.4" width="3" height="84.1" fill="#bbbbbb"/>
<rect x="911.01" y="950.5" width="3" height="1" fill="#c864c8" opacity="0.55"/>
<rect x="923.80" y="844.1" width="3" height="107.4" fill="#bbbbbb"/>
<rect x="923.80" y="950.5" width="3" height="1" fill="#c864c8" opacity="0.55"/>
<rect x="936.60" y="869.7" width="3" height="81.8" fill="#bbbbbb"/>
<rect x="936.60" y="950.5" width="3" height="1" fill="#c864c8" opacity="0.55"/>
<rect x="949.39" y="876.9" width="3" height="74.6" fill="#bbbbbb"/>
<rect x="949.39" y="950.5" width="3" height="1" fill="#c864c8" opacity="0.55"/>
<rect x="962.18" y="875.2" width="3" height="76.3" fill="#bbbbbb"/>
<rect x="962.18" y="950.5" width="3" height="1" fill="#c864c8" opacity="0.55"/>
<rect x="974.97" y="886.7" width="3" height="64.8" fill="#bbbbbb"/>
<rect x="974.97" y="950.5" width="3" height="1" fill="#c864c8" opacity="0.55"/>
<rect x="987.77" y="874.6" width="3" height="76.9" fill="#bbbbbb"/>
<rect x="987.77" y="950.5" width="3" height="1" fill="#c864c8" opacity="0.55"/>
<rect x="1000.56" y="906.3" width="3" height="45.2" fill="#bbbbbb"/>
<rect x="1000.56" y="950.5" width="3" height="1" fill="#c864c8" opacity="0.55"/>
<rect x="1013.35" y="892.6" width="3" height="58.9" fill="#bbbbbb"/>
<rect x="1013.35" y="950.5" width="3" height="1" fill="#c864c8" opacity="0.55"/>
<rect x="1026.15" y="868.7" width="3" height="82.8" fill="#bbbbbb"/>
<rect x="1026.15" y="950.5" width="3" height="1" fill="#c864c8" opacity="0.55"/>
<rect x="1038.94" y="867.1" width="3" height="84.4" fill="#bbbbbb"/>
<rect x="1038.94" y="950.5" width="3" height="1" fill="#c864c8" opacity="0.55"/>
<rect x="1051.73" y="856.6" width="3" height="94.9" fill="#1a78cc"/>
<rect x="1051.73" y="950.5" width="3" height="1" fill="#c864c8" opacity="0.55"/>
<rect x="1064.53" y="868.7" width="3" height="82.8" fill="#bbbbbb"/>
<rect x="1064.53" y="950.5" width="3" height="1" fill="#c864c8" opacity="0.55"/>
<rect x="1077.32" y="869.7" width="3" height="81.8" fill="#bbbbbb"/>
<rect x="1077.32" y="950.5" width="3" height="1" fill="#c864c8" opacity="0.55"/>
<rect x="1090.11" y="772.1" width="3" height="179.4" fill="#bbbbbb"/>
<rect x="1090.11" y="950.5" width="3" height="1" fill="#c864c8" opacity="0.55"/>
<rect x="1102.90" y="833.7" width="3" height="117.8" fill="#bbbbbb"/>
<rect x="1102.90" y="950.5" width="3" height="1" fill="#c864c8" opacity="0.55"/>
<rect x="1115.70" y="846.8" width="3" height="104.7" fill="#bbbbbb"/>
<rect x="1115.70" y="950.5" width="3" height="1" fill="#c864c8" opacity="0.55"/>
<rect x="1128.49" y="830.4" width="3" height="121.1" fill="#bbbbbb"/>
<rect x="1128.49" y="950.5" width="3" height="1" fill="#c864c8" opacity="0.55"/>
<rect x="1141.28" y="852.3" width="3" height="99.2" fill="#bbbbbb"/>
<rect x="1141.28" y="950.5" width="3" height="1" fill="#c864c8" opacity="0.55"/>
<rect x="1154.08" y="863.8" width="3" height="87.7" fill="#bbbbbb"/>
<rect x="1154.08" y="950.5" width="3" height="1" fill="#c864c8" opacity="0.55"/>
<rect x="1166.87" y="854.3" width="3" height="97.2" fill="#bbbbbb"/>
<rect x="1166.87" y="950.5" width="3" height="1" fill="#c864c8" opacity="0.55"/>
<rect x="1179.66" y="856.0" width="3" height="95.5" fill="#bbbbbb"/>
<rect x="1179.66" y="950.5" width="3" height="1" fill="#c864c8" opacity="0.55"/>
<rect x="1192.46" y="786.9" width="3" height="164.6" fill="#bbbbbb"/>
<rect x="1192.46" y="950.5" width="3" height="1" fill="#c864c8" opacity="0.55"/>
<rect x="1205.25" y="731.5" width="3" height="220.0" fill="#16a6dc"/>
<rect x="1205.25" y="950.5" width="3" height="1" fill="#c864c8" opacity="0.55"/>
<rect x="1218.04" y="774.7" width="3" height="176.8" fill="#bbbbbb"/>
<rect x="1218.04" y="950.5" width="3" height="1" fill="#c864c8" opacity="0.55"/>
<rect x="1230.84" y="709.3" width="3" height="242.2" fill="#fbf72a"/>
<rect x="1230.84" y="950.5" width="3" height="1" fill="#c864c8" opacity="0.55"/>
<rect x="1243.63" y="710.9" width="3" height="240.6" fill="#bbbbbb"/>
<rect x="1243.63" y="950.5" width="3" height="1" fill="#c864c8" opacity="0.55"/>
<rect x="1256.42" y="721.4" width="3" height="230.1" fill="#16a6dc"/>
<rect x="1256.42" y="950.5" width="3" height="1" fill="#c864c8" opacity="0.55"/>
<rect x="1269.21" y="785.2" width="3" height="166.3" fill="#bbbbbb"/>
<rect x="1269.21" y="950.5" width="3" height="1" fill="#c864c8" opacity="0.55"/>
<rect x="1282.01" y="794.4" width="3" height="157.1" fill="#bbbbbb"/>
<rect x="1282.01" y="950.5" width="3" height="1" fill="#c864c8" opacity="0.55"/>
<rect x="1294.80" y="849.4" width="3" height="102.1" fill="#bbbbbb"/>
<rect x="1294.80" y="950.5" width="3" height="1" fill="#c864c8" opacity="0.55"/>
<rect x="1307.59" y="879.5" width="3" height="72.0" fill="#c01040"/>
<rect x="1307.59" y="950.5" width="3" height="1" fill="#c864c8" opacity="0.55"/>
<rect x="1320.39" y="850.0" width="3" height="101.5" fill="#bbbbbb"/>
<rect x="1320.39" y="950.5" width="3" height="1" fill="#c864c8" opacity="0.55"/>
<rect x="1333.18" y="874.6" width="3" height="76.9" fill="#bbbbbb"/>
<rect x="1333.18" y="950.5" width="3" height="1" fill="#c864c8" opacity="0.55"/>
<rect x="1345.97" y="844.5" width="3" height="107.0" fill="#bbbbbb"/>
<rect x="1345.97" y="950.5" width="3" height="1" fill="#c864c8" opacity="0.55"/>
<rect x="1358.76" y="885.4" width="3" height="66.1" fill="#c01040"/>
<rect x="1358.76" y="950.5" width="3" height="1" fill="#c864c8" opacity="0.55"/>
<rect x="1371.56" y="895.9" width="3" height="55.6" fill="#c01040"/>
<rect x="1371.56" y="950.5" width="3" height="1" fill="#c864c8" opacity="0.55"/>
<rect x="1384.35" y="877.2" width="3" height="74.3" fill="#1a78cc"/>
<rect x="1384.35" y="950.5" width="3" height="1" fill="#c864c8" opacity="0.55"/>
<rect x="1397.14" y="898.5" width="3" height="53.0" fill="#c01040"/>
<rect x="1397.14" y="950.5" width="3" height="1" fill="#c864c8" opacity="0.55"/>
<rect x="1409.94" y="924.0" width="3" height="27.5" fill="#c01040"/>
<rect x="1409.94" y="950.5" width="3" height="1" fill="#c864c8" opacity="0.55"/>
<rect x="1422.73" y="906.7" width="3" height="44.8" fill="#bbbbbb"/>
<rect x="1422.73" y="950.5" width="3" height="1" fill="#c864c8" opacity="0.55"/>
<rect x="1435.52" y="898.5" width="3" height="53.0" fill="#1a78cc"/>
<rect x="1435.52" y="950.5" width="3" height="1" fill="#c864c8" opacity="0.55"/>
<rect x="1448.32" y="905.0" width="3" height="46.5" fill="#bbbbbb"/>
<rect x="1448.32" y="950.5" width="3" height="1" fill="#c864c8" opacity="0.55"/>
<rect x="1461.11" y="908.3" width="3" height="43.2" fill="#1a78cc"/>
<rect x="1461.11" y="950.5" width="3" height="1" fill="#c864c8" opacity="0.55"/>
<rect x="1473.90" y="860.5" width="3" height="91.0" fill="#bbbbbb"/>
<rect x="1473.90" y="950.5" width="3" height="1" fill="#c864c8" opacity="0.55"/>
<rect x="1486.69" y="831.0" width="3" height="120.5" fill="#fbf72a"/>
<rect x="1486.69" y="950.5" width="3" height="1" fill="#c864c8" opacity="0.55"/>
<rect x="1499.49" y="873.9" width="3" height="77.6" fill="#bbbbbb"/>
<rect x="1499.49" y="950.5" width="3" height="1" fill="#c864c8" opacity="0.55"/>
<rect x="1512.28" y="873.0" width="3" height="78.5" fill="#bbbbbb"/>
<rect x="1512.28" y="950.5" width="3" height="1" fill="#c864c8" opacity="0.55"/>
<rect x="1525.07" y="884.4" width="3" height="67.1" fill="#bbbbbb"/>
<rect x="1525.07" y="950.5" width="3" height="1" fill="#c864c8" opacity="0.55"/>
<rect x="1537.87" y="886.0" width="3" height="65.5" fill="#bbbbbb"/>
<rect x="1537.87" y="950.5" width="3" height="1" fill="#c864c8" opacity="0.55"/>
<rect x="1550.66" y="868.0" width="3" height="83.5" fill="#bbbbbb"/>
<rect x="1550.66" y="950.5" width="3" height="1" fill="#c864c8" opacity="0.55"/>
<rect x="1563.45" y="872.3" width="3" height="79.2" fill="#bbbbbb"/>
<rect x="1563.45" y="950.5" width="3" height="1" fill="#c864c8" opacity="0.55"/>
<rect x="1576.25" y="899.1" width="3" height="52.4" fill="#bbbbbb"/>
<rect x="1576.25" y="950.5" width="3" height="1" fill="#c864c8" opacity="0.55"/>
<rect x="1589.04" y="895.2" width="3" height="56.3" fill="#bbbbbb"/>
<rect x="1589.04" y="950.5" width="3" height="1" fill="#c864c8" opacity="0.55"/>
<rect x="1601.83" y="895.9" width="3" height="55.6" fill="#bbbbbb"/>
<rect x="1601.83" y="950.5" width="3" height="1" fill="#c864c8" opacity="0.55"/>
<rect x="1614.62" y="882.8" width="3" height="68.7" fill="#bbbbbb"/>
<rect x="1614.62" y="950.5" width="3" height="1" fill="#c864c8" opacity="0.55"/>
<rect x="1627.42" y="868.0" width="3" height="83.5" fill="#bbbbbb"/>
<rect x="1627.42" y="950.5" width="3" height="1" fill="#c864c8" opacity="0.55"/>
<rect x="1640.21" y="880.5" width="3" height="71.0" fill="#bbbbbb"/>
<rect x="1640.21" y="950.5" width="3" height="1" fill="#c864c8" opacity="0.55"/>
<rect x="1653.00" y="879.5" width="3" height="72.0" fill="#bbbbbb"/>
<rect x="1653.00" y="950.5" width="3" height="1" fill="#c864c8" opacity="0.55"/>
<rect x="1665.80" y="888.3" width="3" height="63.2" fill="#bbbbbb"/>
<rect x="1665.80" y="950.5" width="3" height="1" fill="#c864c8" opacity="0.55"/>
<rect x="1678.59" y="889.3" width="3" height="62.2" fill="#bbbbbb"/>
<rect x="1678.59" y="950.5" width="3" height="1" fill="#c864c8" opacity="0.55"/>
<rect x="1691.38" y="909.9" width="3" height="41.6" fill="#c01040"/>
<rect x="1691.38" y="950.5" width="3" height="1" fill="#c864c8" opacity="0.55"/>
<rect x="1704.18" y="883.7" width="3" height="67.8" fill="#bbbbbb"/>
<rect x="1704.18" y="950.5" width="3" height="1" fill="#c864c8" opacity="0.55"/>
<rect x="1716.97" y="882.1" width="3" height="69.4" fill="#bbbbbb"/>
<rect x="1716.97" y="950.5" width="3" height="1" fill="#c864c8" opacity="0.55"/>
<rect x="1729.76" y="869.7" width="3" height="81.8" fill="#bbbbbb"/>
<rect x="1729.76" y="950.5" width="3" height="1" fill="#c864c8" opacity="0.55"/>
<rect x="1742.55" y="870.0" width="3" height="81.5" fill="#bbbbbb"/>
<rect x="1742.55" y="950.5" width="3" height="1" fill="#c864c8" opacity="0.55"/>
<rect x="1755.35" y="875.6" width="3" height="75.9" fill="#bbbbbb"/>
<rect x="1755.35" y="950.5" width="3" height="1" fill="#c864c8" opacity="0.55"/>
<rect x="1768.14" y="820.6" width="3" height="130.9" fill="#bbbbbb"/>
<rect x="1768.14" y="950.5" width="3" height="1" fill="#c864c8" opacity="0.55"/>
<rect x="1780.93" y="787.2" width="3" height="164.3" fill="#bbbbbb"/>
<rect x="1780.93" y="950.5" width="3" height="1" fill="#c864c8" opacity="0.55"/>
<rect x="1793.73" y="745.9" width="3" height="205.6" fill="#16a6dc"/>
<rect x="1793.73" y="950.5" width="3" height="1" fill="#c864c8" opacity="0.55"/>
<rect x="1806.52" y="799.3" width="3" height="152.2" fill="#bbbbbb"/>
<rect x="1806.52" y="950.5" width="3" height="1" fill="#c864c8" opacity="0.55"/>
<rect x="1819.31" y="721.7" width="3" height="229.8" fill="#bbbbbb"/>
<rect x="1819.31" y="950.5" width="3" height="1" fill="#c864c8" opacity="0.55"/>
<rect x="1832.11" y="709.9" width="3" height="241.6" fill="#fbf72a"/>
<rect x="1832.11" y="950.5" width="3" height="1" fill="#c864c8" opacity="0.55"/>
<rect x="1844.90" y="765.6" width="3" height="185.9" fill="#fbf72a"/>
<rect x="1844.90" y="950.5" width="3" height="1" fill="#c864c8" opacity="0.55"/>
<rect x="1857.69" y="817.3" width="3" height="134.2" fill="#bbbbbb"/>
<rect x="1857.69" y="950.5" width="3" height="1" fill="#c864c8" opacity="0.55"/>
</g>
<path d="M4.0,818.0 L17.0,814.7 L29.8,816.6 L42.6,818.0 L55.3,823.8 L68.0,837.0 L80.9,849.4 L93.6,860.8 L106.4,869.7 L119.1,877.2 L131.9,882.1 L144.7,886.0 L157.4,887.0 L170.2,887.0 L183.3,889.3 L195.7,891.6 L208.8,890.0 L221.6,892.3 L234.4,891.6 L247.1,889.3 L259.9,886.0 L272.7,881.1 L285.4,878.5 L298.2,875.6 L311.0,875.6 L324.0,874.6 L336.8,875.6 L349.6,878.2 L362.4,878.2 L375.1,878.5 L387.9,880.8 L400.0,879.5 L413.6,877.2 L426.3,877.2 L439.4,874.0 L452.2,869.0 L465.0,859.9 L477.7,847.7 L490.5,836.9 L503.3,832.0 L516.0,827.1 L528.8,822.9 L541.6,819.6 L554.3,817.3 L567.4,816.3 L580.2,815.7 L593.0,814.0 L605.7,814.0 L618.5,816.3 L631.2,820.6 L644.0,831.0 L656.8,849.4 L669.9,864.8 L682.6,874.6 L695.4,882.8 L708.2,890.3 L721.0,892.6 L733.7,896.2 L746.5,895.2 L759.2,892.9 L772.0,894.2 L784.8,893.2 L797.7,893.6 L810.4,895.2 L823.2,892.6 L836.0,891.0 L849.0,888.0 L861.8,883.7 L874.6,879.5 L887.4,875.6 L900.1,874.6 L912.9,873.0 L925.7,867.1 L938.4,865.7 L951.2,863.1 L964.0,860.5 L976.7,858.9 L989.8,857.6 L1002.6,855.9 L1015.4,852.7 L1028.1,845.1 L1040.9,835.3 L1053.7,828.8 L1066.4,818.9 L1079.2,807.5 L1092.0,796.0 L1104.7,797.0 L1117.8,794.4 L1130.6,794.4 L1143.3,797.0 L1156.1,797.7 L1168.9,798.6 L1181.8,797.0 L1194.5,801.0 L1207.3,809.0 L1220.0,819.0 L1232.8,827.0 L1245.6,841.8 L1258.4,857.6 L1271.5,869.7 L1284.2,878.5 L1297.0,885.4 L1309.8,886.0 L1322.5,883.7 L1335.3,885.0 L1348.0,885.0 L1360.8,886.7 L1373.6,888.3 L1386.4,886.0 L1399.1,886.0 L1412.2,885.4 L1425.0,883.7 L1437.8,882.8 L1450.5,881.8 L1463.3,878.8 L1476.0,876.2 L1488.8,878.2 L1501.6,882.8 L1514.4,883.4 L1527.1,886.0 L1540.2,886.7 L1553.0,885.4 L1565.7,885.4 L1578.6,885.4 L1591.3,883.7 L1604.1,878.8 L1616.9,869.7 L1629.6,860.5 L1642.4,855.6 L1655.2,843.5 L1667.9,832.0 L1681.0,823.8 L1693.8,819.9 L1706.6,811.4 L1719.3,805.8 L1732.1,803.6 L1744.9,801.6 L1757.6,802.6 L1770.4,802.6 L1783.2,805.8 L1796.3,812.4 L1809.0,822.2 L1821.8,830.4 L1834.5,845.1 L1847.3,859.9 L1860.1,867.4" fill="none" stroke="#6fbfa5" stroke-width="1" stroke-linejoin="round"/>

<!-- candles -->
<g shape-rendering="crispEdges" clip-path="url(#clipchart)">
<rect x="4" y="248.3" width="1" height="4.8" fill="#ff0000" fill-opacity="0.8"/>
<rect x="0" y="248.3" width="9" height="4.8" fill="#ff0000"/>
<rect x="17" y="244.0" width="1" height="16.5" fill="#2e8b57" fill-opacity="0.8"/>
<rect x="13" y="244.0" width="9" height="8.2" fill="#2e8b57"/>
<rect x="30" y="241.4" width="1" height="37.8" fill="#ff0000" fill-opacity="0.8"/>
<rect x="26" y="244.0" width="9" height="35.2" fill="#ff0000"/>
<rect x="43" y="241.4" width="1" height="43.0" fill="#2e8b57" fill-opacity="0.8"/>
<rect x="39" y="249.5" width="9" height="30.5" fill="#2e8b57"/>
<rect x="55" y="243.0" width="1" height="74.6" fill="#ff0000" fill-opacity="0.8"/>
<rect x="51" y="249.5" width="9" height="56.9" fill="#ff0000"/>
<rect x="68" y="256.9" width="1" height="51.1" fill="#2e8b57" fill-opacity="0.8"/>
<rect x="64" y="263.4" width="9" height="42.1" fill="#2e8b57"/>
<rect x="81" y="224.2" width="1" height="43.8" fill="#2e8b57" fill-opacity="0.8"/>
<rect x="77" y="250.2" width="9" height="13.8" fill="#2e8b57"/>
<rect x="94" y="224.2" width="1" height="36.3" fill="#2e8b57" fill-opacity="0.8"/>
<rect x="90" y="241.2" width="9" height="9.3" fill="#2e8b57"/>
<rect x="107" y="227.6" width="1" height="32.9" fill="#ff0000" fill-opacity="0.8"/>
<rect x="103" y="241.2" width="9" height="12.8" fill="#ff0000"/>
<rect x="119" y="224.7" width="1" height="35.3" fill="#2e8b57" fill-opacity="0.8"/>
<rect x="115" y="245.3" width="9" height="7.7" fill="#2e8b57"/>
<rect x="132" y="229.9" width="1" height="21.5" fill="#2e8b57" fill-opacity="0.8"/>
<rect x="128" y="234.0" width="9" height="10.0" fill="#2e8b57"/>
<rect x="145" y="229.0" width="1" height="24.0" fill="#ff0000" fill-opacity="0.8"/>
<rect x="141" y="234.0" width="9" height="19.0" fill="#ff0000"/>
<rect x="158" y="242.0" width="1" height="18.5" fill="#2e8b57" fill-opacity="0.8"/>
<rect x="154" y="252.0" width="9" height="1.2" fill="#2e8b57"/>
<rect x="171" y="226.4" width="1" height="29.3" fill="#2e8b57" fill-opacity="0.8"/>
<rect x="167" y="226.4" width="9" height="25.8" fill="#2e8b57"/>
<rect x="183" y="224.2" width="1" height="10.5" fill="#ff0000" fill-opacity="0.8"/>
<rect x="179" y="227.6" width="9" height="3.6" fill="#ff0000"/>
<rect x="196" y="215.8" width="1" height="16.7" fill="#2e8b57" fill-opacity="0.8"/>
<rect x="192" y="218.5" width="9" height="12.5" fill="#2e8b57"/>
<rect x="209" y="215.0" width="1" height="20.9" fill="#2e8b57" fill-opacity="0.8"/>
<rect x="205" y="216.6" width="9" height="2.1" fill="#2e8b57"/>
<rect x="222" y="219.2" width="1" height="11.0" fill="#ff0000" fill-opacity="0.8"/>
<rect x="218" y="219.2" width="9" height="6.9" fill="#ff0000"/>
<rect x="234" y="221.3" width="1" height="9.9" fill="#2e8b57" fill-opacity="0.8"/>
<rect x="230" y="224.3" width="9" height="1.2" fill="#2e8b57"/>
<rect x="247" y="222.1" width="1" height="21.9" fill="#ff0000" fill-opacity="0.8"/>
<rect x="243" y="225.6" width="9" height="4.6" fill="#ff0000"/>
<rect x="260" y="227.6" width="1" height="17.7" fill="#ff0000" fill-opacity="0.8"/>
<rect x="256" y="229.0" width="9" height="11.7" fill="#ff0000"/>
<rect x="273" y="229.0" width="1" height="17.7" fill="#2e8b57" fill-opacity="0.8"/>
<rect x="269" y="237.3" width="9" height="3.4" fill="#2e8b57"/>
<rect x="286" y="229.0" width="1" height="18.4" fill="#ff0000" fill-opacity="0.8"/>
<rect x="282" y="237.1" width="9" height="1.4" fill="#ff0000"/>
<rect x="298" y="235.0" width="1" height="15.5" fill="#ff0000" fill-opacity="0.8"/>
<rect x="294" y="239.0" width="9" height="8.6" fill="#ff0000"/>
<rect x="311" y="228.2" width="1" height="19.8" fill="#2e8b57" fill-opacity="0.8"/>
<rect x="307" y="234.7" width="9" height="12.9" fill="#2e8b57"/>
<rect x="324" y="223.4" width="1" height="20.0" fill="#ff0000" fill-opacity="0.8"/>
<rect x="320" y="234.2" width="9" height="5.6" fill="#ff0000"/>
<rect x="337" y="220.3" width="1" height="23.1" fill="#2e8b57" fill-opacity="0.8"/>
<rect x="333" y="227.0" width="9" height="12.8" fill="#2e8b57"/>
<rect x="350" y="203.7" width="1" height="24.3" fill="#2e8b57" fill-opacity="0.8"/>
<rect x="346" y="215.2" width="9" height="11.8" fill="#2e8b57"/>
<rect x="362" y="210.4" width="1" height="34.8" fill="#ff0000" fill-opacity="0.8"/>
<rect x="358" y="215.2" width="9" height="28.2" fill="#ff0000"/>
<rect x="375" y="240.7" width="1" height="24.4" fill="#ff0000" fill-opacity="0.8"/>
<rect x="371" y="243.3" width="9" height="13.7" fill="#ff0000"/>
<rect x="388" y="249.6" width="1" height="31.3" fill="#ff0000" fill-opacity="0.8"/>
<rect x="384" y="256.5" width="9" height="15.3" fill="#ff0000"/>
<rect x="401" y="259.5" width="1" height="19.0" fill="#2e8b57" fill-opacity="0.8"/>
<rect x="397" y="260.4" width="9" height="11.4" fill="#2e8b57"/>
<rect x="414" y="259.2" width="1" height="29.8" fill="#ff0000" fill-opacity="0.8"/>
<rect x="410" y="260.4" width="9" height="24.1" fill="#ff0000"/>
<rect x="426" y="276.9" width="1" height="20.2" fill="#ff0000" fill-opacity="0.8"/>
<rect x="422" y="284.1" width="9" height="4.3" fill="#ff0000"/>
<rect x="439" y="266.0" width="1" height="22.4" fill="#2e8b57" fill-opacity="0.8"/>
<rect x="435" y="279.4" width="9" height="7.2" fill="#2e8b57"/>
<rect x="452" y="262.2" width="1" height="18.3" fill="#2e8b57" fill-opacity="0.8"/>
<rect x="448" y="262.8" width="9" height="16.6" fill="#2e8b57"/>
<rect x="465" y="246.5" width="1" height="17.7" fill="#2e8b57" fill-opacity="0.8"/>
<rect x="461" y="248.3" width="9" height="13.6" fill="#2e8b57"/>
<rect x="478" y="211.3" width="1" height="35.2" fill="#2e8b57" fill-opacity="0.8"/>
<rect x="474" y="222.1" width="9" height="22.2" fill="#2e8b57"/>
<rect x="490" y="202.2" width="1" height="45.2" fill="#2e8b57" fill-opacity="0.8"/>
<rect x="486" y="206.4" width="9" height="15.4" fill="#2e8b57"/>
<rect x="503" y="197.7" width="1" height="27.7" fill="#ff0000" fill-opacity="0.8"/>
<rect x="499" y="203.5" width="9" height="1.2" fill="#ff0000"/>
<rect x="516" y="199.0" width="1" height="22.8" fill="#2e8b57" fill-opacity="0.8"/>
<rect x="512" y="203.5" width="9" height="1.2" fill="#2e8b57"/>
<rect x="529" y="182.7" width="1" height="30.9" fill="#2e8b57" fill-opacity="0.8"/>
<rect x="525" y="186.9" width="9" height="16.8" fill="#2e8b57"/>
<rect x="542" y="171.1" width="1" height="19.7" fill="#2e8b57" fill-opacity="0.8"/>
<rect x="538" y="180.2" width="9" height="6.3" fill="#2e8b57"/>
<rect x="554" y="169.2" width="1" height="24.5" fill="#ff0000" fill-opacity="0.8"/>
<rect x="550" y="180.2" width="9" height="12.5" fill="#ff0000"/>
<rect x="567" y="185.1" width="1" height="24.7" fill="#ff0000" fill-opacity="0.8"/>
<rect x="563" y="191.8" width="9" height="17.1" fill="#ff0000"/>
<rect x="580" y="189.6" width="1" height="21.7" fill="#2e8b57" fill-opacity="0.8"/>
<rect x="576" y="193.2" width="9" height="14.8" fill="#2e8b57"/>
<rect x="593" y="181.5" width="1" height="36.6" fill="#ff0000" fill-opacity="0.8"/>
<rect x="589" y="193.7" width="9" height="15.8" fill="#ff0000"/>
<rect x="605" y="185.6" width="1" height="31.6" fill="#2e8b57" fill-opacity="0.8"/>
<rect x="601" y="189.0" width="9" height="20.5" fill="#2e8b57"/>
<rect x="618" y="130.8" width="1" height="58.8" fill="#2e8b57" fill-opacity="0.8"/>
<rect x="614" y="165.2" width="9" height="23.8" fill="#2e8b57"/>
<rect x="631" y="130.0" width="1" height="89.4" fill="#2e8b57" fill-opacity="0.8"/>
<rect x="627" y="147.1" width="9" height="18.1" fill="#2e8b57"/>
<rect x="644" y="129.0" width="1" height="81.5" fill="#ff0000" fill-opacity="0.8"/>
<rect x="640" y="147.1" width="9" height="41.7" fill="#ff0000"/>
<rect x="657" y="178.5" width="1" height="42.0" fill="#ff0000" fill-opacity="0.8"/>
<rect x="653" y="188.0" width="9" height="8.7" fill="#ff0000"/>
<rect x="669" y="168.2" width="1" height="35.7" fill="#2e8b57" fill-opacity="0.8"/>
<rect x="665" y="178.5" width="9" height="18.2" fill="#2e8b57"/>
<rect x="682" y="175.7" width="1" height="76.4" fill="#ff0000" fill-opacity="0.8"/>
<rect x="678" y="178.1" width="9" height="54.6" fill="#ff0000"/>
<rect x="695" y="195.5" width="1" height="39.4" fill="#2e8b57" fill-opacity="0.8"/>
<rect x="691" y="210.1" width="9" height="22.6" fill="#2e8b57"/>
<rect x="708" y="196.2" width="1" height="19.2" fill="#2e8b57" fill-opacity="0.8"/>
<rect x="704" y="199.1" width="9" height="11.9" fill="#2e8b57"/>
<rect x="721" y="188.9" width="1" height="13.3" fill="#2e8b57" fill-opacity="0.8"/>
<rect x="717" y="192.5" width="9" height="5.7" fill="#2e8b57"/>
<rect x="733" y="181.4" width="1" height="18.6" fill="#2e8b57" fill-opacity="0.8"/>
<rect x="729" y="190.0" width="9" height="2.2" fill="#2e8b57"/>
<rect x="746" y="183.4" width="1" height="50.8" fill="#ff0000" fill-opacity="0.8"/>
<rect x="742" y="188.9" width="9" height="43.8" fill="#ff0000"/>
<rect x="759" y="217.9" width="1" height="44.1" fill="#ff0000" fill-opacity="0.8"/>
<rect x="755" y="233.1" width="9" height="15.0" fill="#ff0000"/>
<rect x="772" y="247.0" width="1" height="14.4" fill="#ff0000" fill-opacity="0.8"/>
<rect x="768" y="248.1" width="9" height="10.0" fill="#ff0000"/>
<rect x="785" y="246.4" width="1" height="19.8" fill="#2e8b57" fill-opacity="0.8"/>
<rect x="781" y="257.0" width="9" height="1.2" fill="#2e8b57"/>
<rect x="797" y="253.6" width="1" height="61.2" fill="#ff0000" fill-opacity="0.8"/>
<rect x="793" y="257.0" width="9" height="50.3" fill="#ff0000"/>
<rect x="810" y="281.7" width="1" height="28.7" fill="#2e8b57" fill-opacity="0.8"/>
<rect x="806" y="291.2" width="9" height="19.2" fill="#2e8b57"/>
<rect x="823" y="276.0" width="1" height="24.7" fill="#2e8b57" fill-opacity="0.8"/>
<rect x="819" y="283.5" width="9" height="8.1" fill="#2e8b57"/>
<rect x="836" y="282.6" width="1" height="7.5" fill="#2e8b57" fill-opacity="0.8"/>
<rect x="832" y="285.2" width="9" height="1.2" fill="#2e8b57"/>
<rect x="849" y="281.7" width="1" height="9.9" fill="#2e8b57" fill-opacity="0.8"/>
<rect x="845" y="286.3" width="9" height="1.2" fill="#2e8b57"/>
<rect x="861" y="285.2" width="1" height="18.1" fill="#ff0000" fill-opacity="0.8"/>
<rect x="857" y="286.8" width="9" height="5.9" fill="#ff0000"/>
<rect x="874" y="285.2" width="1" height="12.0" fill="#2e8b57" fill-opacity="0.8"/>
<rect x="870" y="286.8" width="9" height="7.3" fill="#2e8b57"/>
<rect x="887" y="257.0" width="1" height="32.0" fill="#2e8b57" fill-opacity="0.8"/>
<rect x="883" y="259.6" width="9" height="25.0" fill="#2e8b57"/>
<rect x="900" y="250.8" width="1" height="12.8" fill="#2e8b57" fill-opacity="0.8"/>
<rect x="896" y="255.4" width="9" height="4.4" fill="#2e8b57"/>
<rect x="913" y="243.0" width="1" height="19.9" fill="#2e8b57" fill-opacity="0.8"/>
<rect x="909" y="248.1" width="9" height="7.5" fill="#2e8b57"/>
<rect x="925" y="239.9" width="1" height="32.1" fill="#ff0000" fill-opacity="0.8"/>
<rect x="921" y="248.1" width="9" height="23.9" fill="#ff0000"/>
<rect x="938" y="256.3" width="1" height="21.2" fill="#2e8b57" fill-opacity="0.8"/>
<rect x="934" y="263.6" width="9" height="8.4" fill="#2e8b57"/>
<rect x="951" y="263.6" width="1" height="24.9" fill="#ff0000" fill-opacity="0.8"/>
<rect x="947" y="263.6" width="9" height="18.1" fill="#ff0000"/>
<rect x="964" y="269.0" width="1" height="17.0" fill="#2e8b57" fill-opacity="0.8"/>
<rect x="960" y="274.5" width="9" height="6.5" fill="#2e8b57"/>
<rect x="976" y="271.7" width="1" height="28.5" fill="#ff0000" fill-opacity="0.8"/>
<rect x="972" y="272.6" width="9" height="27.2" fill="#ff0000"/>
<rect x="989" y="297.6" width="1" height="38.2" fill="#ff0000" fill-opacity="0.8"/>
<rect x="985" y="299.8" width="9" height="36.0" fill="#ff0000"/>
<rect x="1002" y="307.0" width="1" height="30.3" fill="#2e8b57" fill-opacity="0.8"/>
<rect x="998" y="309.7" width="9" height="26.1" fill="#2e8b57"/>
<rect x="1015" y="285.4" width="1" height="32.5" fill="#2e8b57" fill-opacity="0.8"/>
<rect x="1011" y="286.5" width="9" height="20.3" fill="#2e8b57"/>
<rect x="1028" y="279.9" width="1" height="29.8" fill="#ff0000" fill-opacity="0.8"/>
<rect x="1024" y="284.3" width="9" height="12.1" fill="#ff0000"/>
<rect x="1040" y="281.0" width="1" height="23.2" fill="#ff0000" fill-opacity="0.8"/>
<rect x="1036" y="294.9" width="9" height="8.2" fill="#ff0000"/>
<rect x="1053" y="293.1" width="1" height="14.8" fill="#ff0000" fill-opacity="0.8"/>
<rect x="1049" y="301.5" width="9" height="1.2" fill="#ff0000"/>
<rect x="1066" y="269.9" width="1" height="45.3" fill="#2e8b57" fill-opacity="0.8"/>
<rect x="1062" y="275.0" width="9" height="28.7" fill="#2e8b57"/>
<rect x="1079" y="273.7" width="1" height="75.3" fill="#ff0000" fill-opacity="0.8"/>
<rect x="1075" y="274.8" width="9" height="74.2" fill="#ff0000"/>
<rect x="1092" y="342.8" width="1" height="88.8" fill="#ff0000" fill-opacity="0.8"/>
<rect x="1088" y="347.9" width="9" height="83.7" fill="#ff0000"/>
<rect x="1104" y="390.3" width="1" height="48.2" fill="#2e8b57" fill-opacity="0.8"/>
<rect x="1100" y="416.2" width="9" height="15.4" fill="#2e8b57"/>
<rect x="1117" y="405.1" width="1" height="31.6" fill="#ff0000" fill-opacity="0.8"/>
<rect x="1113" y="416.8" width="9" height="8.9" fill="#ff0000"/>
<rect x="1130" y="419.0" width="1" height="49.7" fill="#ff0000" fill-opacity="0.8"/>
<rect x="1126" y="425.7" width="9" height="38.0" fill="#ff0000"/>
<rect x="1143" y="426.8" width="1" height="44.8" fill="#2e8b57" fill-opacity="0.8"/>
<rect x="1139" y="430.8" width="9" height="33.7" fill="#2e8b57"/>
<rect x="1156" y="417.9" width="1" height="40.9" fill="#ff0000" fill-opacity="0.8"/>
<rect x="1152" y="431.4" width="9" height="24.1" fill="#ff0000"/>
<rect x="1168" y="437.8" width="1" height="38.2" fill="#2e8b57" fill-opacity="0.8"/>
<rect x="1164" y="444.9" width="9" height="9.7" fill="#2e8b57"/>
<rect x="1181" y="441.1" width="1" height="33.2" fill="#ff0000" fill-opacity="0.8"/>
<rect x="1177" y="444.9" width="9" height="22.7" fill="#ff0000"/>
<rect x="1194" y="430.5" width="1" height="43.8" fill="#2e8b57" fill-opacity="0.8"/>
<rect x="1190" y="447.1" width="9" height="19.0" fill="#2e8b57"/>
<rect x="1207" y="360.5" width="1" height="96.8" fill="#2e8b57" fill-opacity="0.8"/>
<rect x="1203" y="374.2" width="9" height="74.0" fill="#2e8b57"/>
<rect x="1220" y="328.9" width="1" height="54.8" fill="#2e8b57" fill-opacity="0.8"/>
<rect x="1216" y="361.0" width="9" height="14.7" fill="#2e8b57"/>
<rect x="1232" y="328.9" width="1" height="89.5" fill="#ff0000" fill-opacity="0.8"/>
<rect x="1228" y="362.1" width="9" height="43.7" fill="#ff0000"/>
<rect x="1245" y="346.2" width="1" height="81.0" fill="#2e8b57" fill-opacity="0.8"/>
<rect x="1241" y="374.2" width="9" height="38.2" fill="#2e8b57"/>
<rect x="1258" y="330.0" width="1" height="92.4" fill="#2e8b57" fill-opacity="0.8"/>
<rect x="1254" y="350.6" width="9" height="24.3" fill="#2e8b57"/>
<rect x="1271" y="320.7" width="1" height="52.4" fill="#2e8b57" fill-opacity="0.8"/>
<rect x="1267" y="329.1" width="9" height="22.1" fill="#2e8b57"/>
<rect x="1284" y="325.8" width="1" height="53.2" fill="#ff0000" fill-opacity="0.8"/>
<rect x="1280" y="329.1" width="9" height="13.3" fill="#ff0000"/>
<rect x="1296" y="333.1" width="1" height="24.2" fill="#ff0000" fill-opacity="0.8"/>
<rect x="1292" y="342.3" width="9" height="10.4" fill="#ff0000"/>
<rect x="1309" y="340.5" width="1" height="17.5" fill="#2e8b57" fill-opacity="0.8"/>
<rect x="1305" y="351.1" width="9" height="2.3" fill="#2e8b57"/>
<rect x="1322" y="344.6" width="1" height="38.8" fill="#ff0000" fill-opacity="0.8"/>
<rect x="1318" y="349.7" width="9" height="8.8" fill="#ff0000"/>
<rect x="1335" y="344.0" width="1" height="19.6" fill="#ff0000" fill-opacity="0.8"/>
<rect x="1331" y="358.5" width="9" height="2.8" fill="#ff0000"/>
<rect x="1347" y="340.5" width="1" height="27.2" fill="#2e8b57" fill-opacity="0.8"/>
<rect x="1343" y="355.5" width="9" height="5.8" fill="#2e8b57"/>
<rect x="1360" y="353.9" width="1" height="11.5" fill="#ff0000" fill-opacity="0.8"/>
<rect x="1356" y="355.5" width="9" height="8.1" fill="#ff0000"/>
<rect x="1373" y="358.5" width="1" height="23.5" fill="#ff0000" fill-opacity="0.8"/>
<rect x="1369" y="363.6" width="9" height="18.4" fill="#ff0000"/>
<rect x="1386" y="375.8" width="1" height="11.1" fill="#32cd32" fill-opacity="0.8"/>
<rect x="1382" y="381.1" width="9" height="1.2" fill="#32cd32"/>
<rect x="1399" y="357.8" width="1" height="26.6" fill="#2e8b57" fill-opacity="0.8"/>
<rect x="1395" y="367.0" width="9" height="16.4" fill="#2e8b57"/>
<rect x="1411" y="363.1" width="1" height="24.3" fill="#2e8b57" fill-opacity="0.8"/>
<rect x="1407" y="366.0" width="9" height="1.2" fill="#2e8b57"/>
<rect x="1424" y="352.7" width="1" height="13.4" fill="#ff0000" fill-opacity="0.8"/>
<rect x="1420" y="358.5" width="9" height="7.6" fill="#ff0000"/>
<rect x="1437" y="354.6" width="1" height="11.5" fill="#2e8b57" fill-opacity="0.8"/>
<rect x="1433" y="358.5" width="9" height="6.9" fill="#2e8b57"/>
<rect x="1450" y="355.0" width="1" height="20.4" fill="#ff0000" fill-opacity="0.8"/>
<rect x="1446" y="358.5" width="9" height="4.2" fill="#ff0000"/>
<rect x="1463" y="359.7" width="1" height="9.7" fill="#ff0000" fill-opacity="0.8"/>
<rect x="1459" y="363.8" width="9" height="3.9" fill="#ff0000"/>
<rect x="1475" y="352.0" width="1" height="46.5" fill="#ff0000" fill-opacity="0.8"/>
<rect x="1471" y="368.4" width="9" height="27.1" fill="#ff0000"/>
<rect x="1488" y="394.8" width="1" height="71.6" fill="#ff0000" fill-opacity="0.8"/>
<rect x="1484" y="395.5" width="9" height="41.5" fill="#ff0000"/>
<rect x="1501" y="423.2" width="1" height="21.4" fill="#2e8b57" fill-opacity="0.8"/>
<rect x="1497" y="430.1" width="9" height="9.9" fill="#2e8b57"/>
<rect x="1514" y="408.8" width="1" height="27.8" fill="#ff0000" fill-opacity="0.8"/>
<rect x="1510" y="428.9" width="9" height="7.0" fill="#ff0000"/>
<rect x="1527" y="413.5" width="1" height="23.5" fill="#2e8b57" fill-opacity="0.8"/>
<rect x="1523" y="418.1" width="9" height="17.1" fill="#2e8b57"/>
<rect x="1539" y="417.4" width="1" height="43.2" fill="#ff0000" fill-opacity="0.8"/>
<rect x="1535" y="418.1" width="9" height="34.4" fill="#ff0000"/>
<rect x="1552" y="452.0" width="1" height="57.8" fill="#ff0000" fill-opacity="0.8"/>
<rect x="1548" y="452.7" width="9" height="36.3" fill="#ff0000"/>
<rect x="1565" y="484.8" width="1" height="47.4" fill="#ff0000" fill-opacity="0.8"/>
<rect x="1561" y="487.8" width="9" height="30.7" fill="#ff0000"/>
<rect x="1578" y="494.1" width="1" height="26.1" fill="#2e8b57" fill-opacity="0.8"/>
<rect x="1574" y="504.5" width="9" height="14.5" fill="#2e8b57"/>
<rect x="1591" y="492.9" width="1" height="23.1" fill="#ff0000" fill-opacity="0.8"/>
<rect x="1587" y="505.2" width="9" height="10.8" fill="#ff0000"/>
<rect x="1603" y="507.4" width="1" height="20.7" fill="#2e8b57" fill-opacity="0.8"/>
<rect x="1599" y="512.6" width="9" height="2.3" fill="#2e8b57"/>
<rect x="1616" y="480.3" width="1" height="32.4" fill="#2e8b57" fill-opacity="0.8"/>
<rect x="1612" y="501.1" width="9" height="9.7" fill="#2e8b57"/>
<rect x="1629" y="478.0" width="1" height="27.0" fill="#2e8b57" fill-opacity="0.8"/>
<rect x="1625" y="492.8" width="9" height="9.2" fill="#2e8b57"/>
<rect x="1642" y="473.9" width="1" height="19.6" fill="#2e8b57" fill-opacity="0.8"/>
<rect x="1638" y="490.0" width="9" height="1.6" fill="#2e8b57"/>
<rect x="1655" y="485.4" width="1" height="30.7" fill="#ff0000" fill-opacity="0.8"/>
<rect x="1651" y="491.2" width="9" height="14.3" fill="#ff0000"/>
<rect x="1667" y="476.9" width="1" height="30.0" fill="#2e8b57" fill-opacity="0.8"/>
<rect x="1663" y="487.7" width="9" height="17.8" fill="#2e8b57"/>
<rect x="1680" y="448.5" width="1" height="38.8" fill="#2e8b57" fill-opacity="0.8"/>
<rect x="1676" y="456.1" width="9" height="31.2" fill="#2e8b57"/>
<rect x="1693" y="452.6" width="1" height="15.5" fill="#2e8b57" fill-opacity="0.8"/>
<rect x="1689" y="454.3" width="9" height="2.7" fill="#2e8b57"/>
<rect x="1706" y="441.1" width="1" height="33.5" fill="#ff0000" fill-opacity="0.8"/>
<rect x="1702" y="453.6" width="9" height="15.7" fill="#ff0000"/>
<rect x="1718" y="469.3" width="1" height="35.3" fill="#ff0000" fill-opacity="0.8"/>
<rect x="1714" y="469.3" width="9" height="27.2" fill="#ff0000"/>
<rect x="1731" y="490.0" width="1" height="32.8" fill="#ff0000" fill-opacity="0.8"/>
<rect x="1727" y="495.8" width="9" height="1.2" fill="#ff0000"/>
<rect x="1744" y="477.8" width="1" height="18.7" fill="#2e8b57" fill-opacity="0.8"/>
<rect x="1740" y="484.7" width="9" height="11.8" fill="#2e8b57"/>
<rect x="1757" y="481.5" width="1" height="40.2" fill="#ff0000" fill-opacity="0.8"/>
<rect x="1753" y="484.7" width="9" height="32.3" fill="#ff0000"/>
<rect x="1770" y="503.4" width="1" height="102.1" fill="#ff0000" fill-opacity="0.8"/>
<rect x="1766" y="516.6" width="9" height="78.9" fill="#ff0000"/>
<rect x="1782" y="503.4" width="1" height="98.6" fill="#2e8b57" fill-opacity="0.8"/>
<rect x="1778" y="511.5" width="9" height="84.7" fill="#2e8b57"/>
<rect x="1795" y="416.6" width="1" height="114.3" fill="#2e8b57" fill-opacity="0.8"/>
<rect x="1791" y="442.0" width="9" height="69.5" fill="#2e8b57"/>
<rect x="1808" y="394.2" width="1" height="58.9" fill="#2e8b57" fill-opacity="0.8"/>
<rect x="1804" y="428.9" width="9" height="13.1" fill="#2e8b57"/>
<rect x="1821" y="403.5" width="1" height="61.8" fill="#ff0000" fill-opacity="0.8"/>
<rect x="1817" y="430.0" width="9" height="4.6" fill="#ff0000"/>
<rect x="1834" y="412.2" width="1" height="72.8" fill="#ff0000" fill-opacity="0.8"/>
<rect x="1830" y="434.6" width="9" height="34.0" fill="#ff0000"/>
<rect x="1846" y="391.9" width="1" height="83.8" fill="#2e8b57" fill-opacity="0.8"/>
<rect x="1842" y="443.9" width="9" height="25.4" fill="#2e8b57"/>
<rect x="1859" y="415.7" width="1" height="28.2" fill="#2e8b57" fill-opacity="0.8"/>
<rect x="1855" y="435.3" width="9" height="8.6" fill="#2e8b57"/>
</g>

<!-- highlight box -->
<rect x="636.100" y="127" width="52.900" height="831" rx="8.500" ry="8.500" fill="none" stroke="url(#gbox)" stroke-width="4"/>

<!-- arrow -->
<path d="M448.950 466.600 L602.700 571 L591.400 556.500 L634.200 597.200 L580.200 573.500 L597.800 578.700 L444.100 473.500 Z" fill="url(#garr)" stroke="#0c0c14" stroke-width="0.9" stroke-linejoin="miter" stroke-miterlimit="10"/>

<!-- annotation -->
<text x="285.2" y="376.5" class="ann" textLength="379" lengthAdjust="spacingAndGlyphs">Formation of low volume</text>
<text x="285.200" y="417.500" class="ann" textLength="400" lengthAdjust="spacingAndGlyphs">histograms during market</text>
<text x="285.4" y="458.5" class="ann" textLength="481.5" lengthAdjust="spacingAndGlyphs">indecision and at bottom points</text>

<!-- logo badge -->
<path d="M1380 0 L1716 0 L1685.500 71 C1679 85 1671 92 1655 92 L1441 92 C1425 92 1417 85 1410.500 71 Z" fill="#f6f6f6"/>
<g fill="none" stroke="#1fe6f0" stroke-width="3" stroke-linejoin="miter" stroke-linecap="butt">
<path d="M1458.400 35 V17 H1450.400 V38 H1455.600"/>
<path d="M1464.200 38.400 H1480 V30.700 H1467.900 L1450.600 48.100 V56.300 L1458.600 64.900 H1480 V55.900 H1459.200 V43.600"/>
</g>
<text x="1490.3" y="53.500" class="logo" textLength="168.5" lengthAdjust="spacingAndGlyphs">TradingFinder</text>
</svg>
</body>
</html>
